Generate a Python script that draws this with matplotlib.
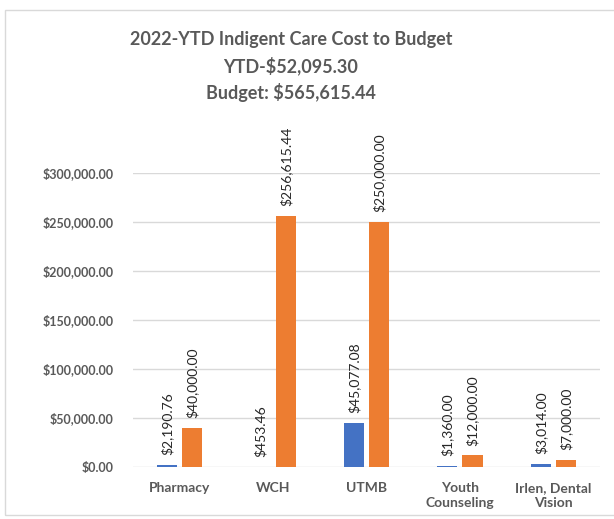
import matplotlib.pyplot as plt
import matplotlib.patches as patches
import numpy as np

# chart data
categories = ["Pharmacy", "WCH", "UTMB", "Youth\nCounseling", "Irlen, Dental\nVision"]
ytd_cost = [2190.76, 453.46, 45077.08, 1360.00, 3014.00]
budget = [40000.00, 256615.44, 250000.00, 12000.00, 7000.00]
y_ticks = [0, 50000, 100000, 150000, 200000, 250000, 300000]

blue = "#4472C4"
orange = "#ED7D31"
gray = "#595959"

plt.rcParams['font.family'] = ['Lato', 'DejaVu Sans']

fig = plt.figure(figsize=(6.14, 5.19), dpi=100)
W, H = 614, 519

# light chart border
fig.patches.append(patches.Rectangle((5 / W, 4 / H), 1.0, 505 / H, transform=fig.transFigure,
                                     fill=False, edgecolor="#D9D9D9", linewidth=1))

# plot area in pixels: left 133, right 600, top 173, bottom 467
ax = fig.add_axes([133 / W, (H - 467) / H, (600 - 133) / W, (467 - 173) / H])

x = np.arange(len(categories))
w = 0.215
off = 0.135
b1 = ax.bar(x - off, ytd_cost, width=w, color=blue, zorder=3)
b2 = ax.bar(x + off, budget, width=w, color=orange, zorder=3)

# data labels, rotated
for bars, vals in [(b1, ytd_cost), (b2, budget)]:
    for bar, v in zip(bars, vals):
        ax.annotate(f"${v:,.2f}", (bar.get_x() + bar.get_width() / 2, v),
                    xytext=(0, 7), textcoords="offset points", rotation=90,
                    ha="center", va="bottom", fontsize=10, color="#262626",
                    annotation_clip=False)

ax.set_xlim(-0.5, len(categories) - 0.5)
ax.set_ylim(0, 300000)
ax.set_yticks(y_ticks)
ax.set_yticklabels([f"${t:,.2f}" for t in y_ticks], fontsize=9, color=gray, fontweight="bold")
ax.set_xticks(x)
ax.set_xticklabels(categories, fontsize=10, color=gray, fontweight="bold", linespacing=1.3)
ax.tick_params(length=0, pad=11)
ax.tick_params(axis="y", pad=14)
ax.grid(axis="y", color="#D9D9D9", linewidth=1, zorder=0)
for s in ax.spines.values():
    s.set_visible(False)

# title block
fig.text(291 / W, 1 - 39 / H, "2022-YTD Indigent Care Cost to Budget", ha="center", va="center",
         fontsize=13, fontweight="bold", color=gray)
fig.text(291 / W, 1 - 66 / H, "YTD-$52,095.30", ha="center", va="center",
         fontsize=13, fontweight="bold", color=gray)
fig.text(291 / W, 1 - 93 / H, "Budget: $565,615.44", ha="center", va="center",
         fontsize=13, fontweight="bold", color=gray)

plt.savefig("out.png", dpi=100)
plt.close()
